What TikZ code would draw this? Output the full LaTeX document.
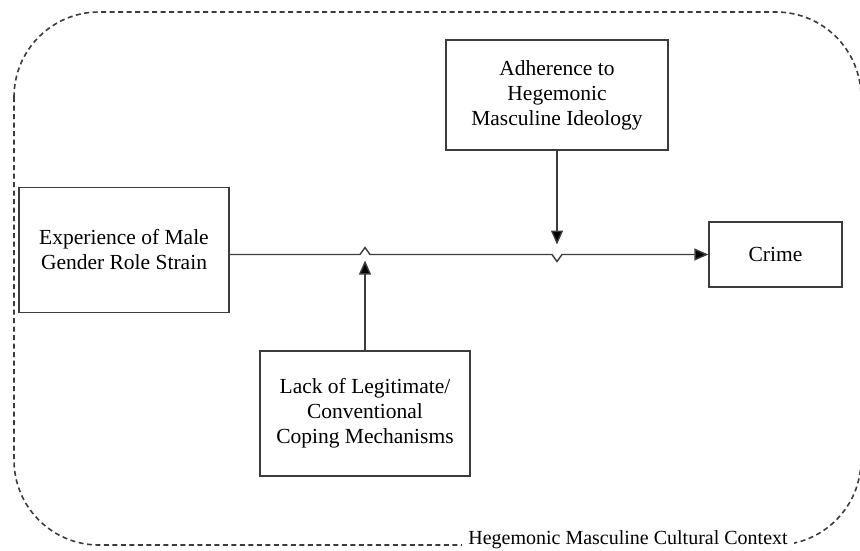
\documentclass[tikz,border=0pt]{standalone}
\usepackage{fontspec}
\setmainfont{Liberation Serif}
\usetikzlibrary{arrows.meta,calc}

\definecolor{edge}{HTML}{3C3C3C}

\begin{document}
\begin{tikzpicture}[
    x=1pt, y=-1pt,
    box/.style={draw=edge, line width=1.3pt, minimum width=210pt, minimum height=125pt,
                align=center, inner sep=0pt, font=\fontsize{21.5}{25}\selectfont},
    link/.style={draw=edge, line width=1.4pt},
    arr/.style={link, -{Triangle[length=14pt, width=12pt, fill=black]}},
    border/.style={draw=edge, line width=1.6pt, dash pattern=on 5pt off 3.5pt, rounded corners=85pt},
]
  \useasboundingbox (0,0) rectangle (860,550);

  % Context frame
  \draw[border] (14,12) rectangle (861,545);
  \node[fill=white, inner xsep=6pt, inner ysep=2pt, font=\fontsize{20}{22}\selectfont]
       (context) at (628,540) {Hegemonic Masculine Cultural Context};

  % Boxes
  \node[box] (strain) at (124,250) {Experience of Male\\Gender Role Strain};
  \node[box, minimum width=133pt, minimum height=65pt] (crime) at (775.5,254.5) {Crime};
  \node[box, minimum width=222pt, minimum height=110pt] (ideology) at (557,95)
       {Adherence to\\Hegemonic\\Masculine Ideology};
  \node[box] (coping) at (365,413.5) {Lack of Legitimate/\\Conventional\\Coping Mechanisms};

  % Arrow ends just short of the main line
  \coordinate (upTip) at ($(coping.north |- crime.west)+(0,6)$);
  \coordinate (downTip) at ($(ideology.south |- crime.west)+(0,-10)$);

  % Main path with the two small hops
  \draw[arr] (strain.east |- crime.west) -- ($(coping.north |- crime.west)+(-5,0)$)
       -- ++(5,-7) -- ++(5,7) -- ($(ideology.south |- crime.west)+(-5,0)$)
       -- ++(5,7) -- ++(5,-7) -- (crime.west);
  \draw[arr] (coping.north) -- (upTip);
  \draw[arr] (ideology.south) -- (downTip);
\end{tikzpicture}
\end{document}
